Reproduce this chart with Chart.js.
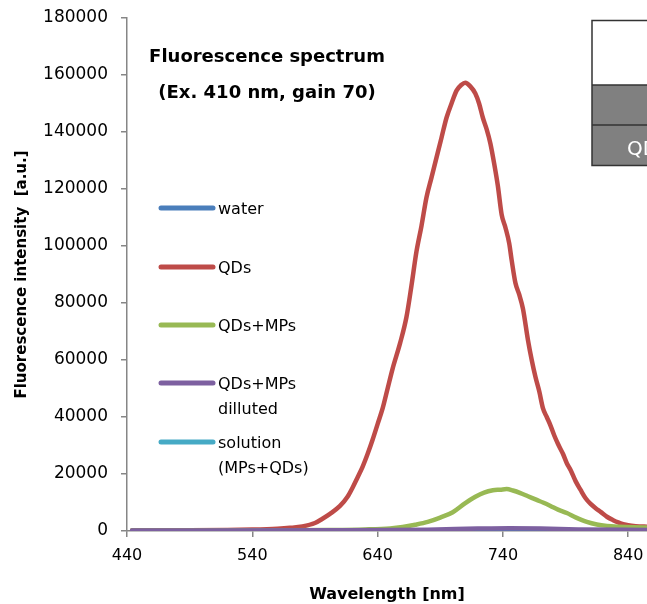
<!DOCTYPE html>
<html>
<head>
<meta charset="utf-8">
<script src="https://cdn.jsdelivr.net/npm/chart.js@4"></script>
<style>
  html, body { margin: 0; padding: 0; background: #ffffff; }
  #wrap { width: 647px; height: 604px; }
</style>
</head>
<body>
<div id="wrap"><canvas id="spectrumChart" width="647" height="604"></canvas></div>
<script>
// tick labels
var xTicks = [440, 540, 640, 740, 840];
var yTicks = [0, 20000, 40000, 60000, 80000, 100000, 120000, 140000, 160000, 180000];

// series (wavelength in nm, intensity in a.u.)
var waterNm  = [444, 520, 600, 680, 740, 800, 856];
var waterVal = [80, 80, 80, 80, 100, 80, 80];

var qdsNm  = [444, 480, 520, 540, 560, 570, 580, 590, 596, 602, 610, 616, 620, 624, 628, 632, 636, 640, 644, 648,
              652, 658, 663, 667, 671, 675, 679, 683, 687, 691, 695, 699, 703, 707, 710, 714, 718, 721, 724, 727,
              730, 733, 736, 739, 742, 745, 747, 750, 753, 756, 760, 763, 766, 769, 772, 775, 778, 781, 784, 788,
              791, 794, 798, 802, 806, 810, 814, 818, 823, 828, 832, 836, 840, 846, 856];
var qdsVal = [200, 250, 350, 500, 800, 1100, 1600, 2800, 4300, 6000, 8800, 12000, 15200, 18800, 22500, 27000, 32000, 37500, 43000, 50000,
              57000, 66000, 75000, 86000, 98000, 107000, 117000, 124000, 131000, 138000, 145000, 150000, 154500, 156600, 157300, 156000, 153500, 150000, 145000, 141000,
              136000, 129000, 121000, 111000, 106500, 101000, 95000, 87000, 83000, 78000, 67000, 60000, 54000, 49000, 43000, 40000, 37000, 33500, 30500, 27000,
              23800, 21400, 17500, 14400, 11500, 9500, 8000, 6700, 5000, 3800, 3000, 2400, 2000, 1700, 1500];

var qdsMpsNm  = [444, 500, 560, 600, 630, 650, 660, 670, 680, 690, 700, 710, 718, 725, 732, 738, 743, 748, 754, 760,
                 767, 772, 778, 784, 791, 798, 807, 815, 823, 833, 844, 856];
var qdsMpsVal = [150, 150, 250, 350, 550, 900, 1400, 2200, 3200, 4700, 6600, 9800, 12000, 13500, 14300, 14500, 14700, 14200, 13300, 12200,
                 10900, 10000, 8800, 7500, 6300, 4800, 3200, 2300, 1800, 1500, 1300, 1200];

var dilutedNm  = [444, 600, 680, 720, 745, 770, 800, 856];
var dilutedVal = [150, 250, 450, 850, 1000, 900, 550, 350];

var solutionNm  = [444, 600, 740, 856];
var solutionVal = [50, 50, 60, 50];

var seriesNames = ["water", "QDs", "QDs+MPs", "QDs+MPs dilluted", "solution (MPs+QDs)"];
var legendLines = [["water"], ["QDs"], ["QDs+MPs"], ["QDs+MPs", "dilluted"], ["solution", "(MPs+QDs)"]];
var titleLines = ["Fluorescence spectrum", "(Ex. 410 nm, gain 70)"];

function toPoints(nm, val) {
    return nm.map(function (x, i) { return { x: x, y: val[i] }; });
}

var colors = ["#4A7EBB", "#BE4B48", "#98B954", "#7D60A0", "#46AAC5"];

// draws the floating title, the legend and the clipped table at the top right
var decorPlugin = {
    id: "decor",
    afterDraw: function (chart) {
        var ctx = chart.ctx;
        ctx.save();
        ctx.fillStyle = "#000";
        ctx.textAlign = "center";
        ctx.textBaseline = "alphabetic";
        ctx.font = "bold 18px 'DejaVu Sans'";
        ctx.fillText(titleLines[0], 267, 62);
        ctx.fillText(titleLines[1], 267, 98);

        // legend
        var rows = [208, 267, 325, 383, 442];
        ctx.textAlign = "left";
        ctx.font = "16px 'DejaVu Sans'";
        ctx.lineCap = "round";
        ctx.lineWidth = 5;
        legendLines.forEach(function (lines, i) {
            ctx.strokeStyle = chart.data.datasets[i].borderColor;
            ctx.beginPath();
            ctx.moveTo(161, rows[i]);
            ctx.lineTo(213, rows[i]);
            ctx.stroke();
            lines.forEach(function (t, j) {
                ctx.fillText(t, 218, rows[i] + 6 + j * 25);
            });
        });

        // table fragment
        ctx.fillStyle = "#808080";
        ctx.fillRect(592, 85, 60, 80);
        ctx.strokeStyle = "#333";
        ctx.lineWidth = 1.5;
        ctx.lineCap = "butt";
        ctx.beginPath();
        ctx.moveTo(660, 20.5); ctx.lineTo(592, 20.5); ctx.lineTo(592, 165.5); ctx.lineTo(660, 165.5);
        ctx.moveTo(592, 85); ctx.lineTo(660, 85);
        ctx.moveTo(592, 125); ctx.lineTo(660, 125);
        ctx.stroke();
        ctx.fillStyle = "#ffffff";
        ctx.font = "20px 'DejaVu Sans'";
        ctx.fillText("QDs", 627, 155);
        ctx.restore();
    }
};

var ctx = document.getElementById("spectrumChart").getContext("2d");
var spectrumChart = new Chart(ctx, {
    type: "line",
    data: {
        datasets: [
            { label: seriesNames[0], data: toPoints(waterNm, waterVal), borderColor: colors[0], order: 3 },
            { label: seriesNames[1], data: toPoints(qdsNm, qdsVal), borderColor: colors[1], order: 2 },
            { label: seriesNames[2], data: toPoints(qdsMpsNm, qdsMpsVal), borderColor: colors[2], order: 1 },
            { label: seriesNames[3], data: toPoints(dilutedNm, dilutedVal), borderColor: colors[3], order: 0 },
            { label: seriesNames[4], data: toPoints(solutionNm, solutionVal), borderColor: colors[4], order: 4 }
        ]
    },
    options: {
        responsive: false,
        animation: false,
        events: [],
        layout: { padding: { top: 18, left: 0, right: 0, bottom: 0 } },
        elements: {
            line: { borderWidth: 4.5, cubicInterpolationMode: "monotone", fill: false, borderCapStyle: "round", borderJoinStyle: "round" },
            point: { radius: 0 }
        },
        plugins: {
            legend: { display: false },
            tooltip: { enabled: false }
        },
        scales: {
            x: {
                type: "linear",
                position: "bottom",
                min: 440,
                max: 855,
                grid: { drawOnChartArea: false, drawTicks: true, tickLength: 6, color: "#868686", lineWidth: 1.5 },
                border: { color: "#868686", width: 1.5 },
                ticks: {
                    stepSize: 100,
                    maxRotation: 0,
                    padding: 9,
                    color: "#000",
                    font: { family: "'DejaVu Sans'", size: 16 }
                },
                afterBuildTicks: function (scale) {
                    scale.ticks = xTicks.map(function (v) { return { value: v }; });
                },
                title: {
                    display: true,
                    text: "Wavelength [nm]",
                    color: "#000",
                    font: { family: "'DejaVu Sans'", size: 16, weight: "bold" },
                    padding: { top: 2, bottom: 0 }
                },
                afterFit: function (scale) {
                    scale.height = 73;
                    scale.paddingLeft = 0;
                    scale.paddingRight = 0;
                }
            },
            y: {
                min: 0,
                max: 180000,
                grid: { drawOnChartArea: false, drawTicks: true, tickLength: 6, color: "#868686", lineWidth: 1.5 },
                border: { color: "#868686", width: 1.5 },
                ticks: {
                    stepSize: 20000,
                    padding: 13,
                    color: "#000",
                    font: { family: "'DejaVu Sans'", size: 17 },
                    callback: function (value) { return String(value); }
                },
                afterBuildTicks: function (scale) {
                    scale.ticks = yTicks.map(function (v) { return { value: v }; });
                },
                title: {
                    display: true,
                    text: "Fluorescence intensity  [a.u.]",
                    color: "#000",
                    font: { family: "'DejaVu Sans'", size: 15, weight: "bold" },
                    padding: { top: 13, bottom: 0 }
                },
                afterFit: function (scale) {
                    scale.width = 127;
                    scale.paddingTop = 0;
                    scale.paddingBottom = 0;
                }
            }
        }
    },
    plugins: [decorPlugin]
});
</script>
</body>
</html>
